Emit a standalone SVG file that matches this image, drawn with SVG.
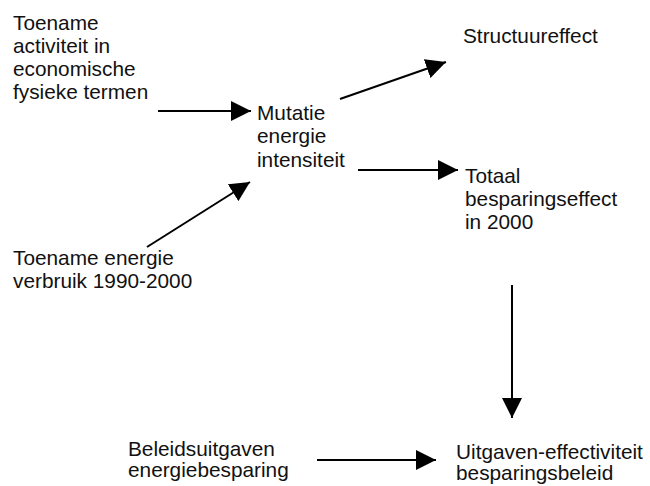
<svg xmlns="http://www.w3.org/2000/svg" width="650" height="486" viewBox="0 0 650 486">
<defs>
<marker id="ah" viewBox="0 0 20 20" refX="20" refY="10" markerWidth="20" markerHeight="20" markerUnits="userSpaceOnUse" orient="auto">
<path d="M0,0 L20,10 L0,20 Z" fill="#000"/>
</marker>
<style>
text{font-family:"Liberation Sans",Arial,Helvetica,sans-serif;font-size:20.8px;fill:#111}
.c{stroke:#000;stroke-width:2;fill:none;marker-end:url(#ah)}
</style>
</defs>
<rect width="650" height="486" fill="#fff"/>
<g id="connectors">
<line class="c" x1="158" y1="111" x2="251" y2="111"/>
<line class="c" x1="340" y1="99" x2="446" y2="62"/>
<line class="c" x1="358" y1="170" x2="458" y2="170"/>
<line class="c" x1="147" y1="247" x2="250" y2="182"/>
<line class="c" x1="512" y1="285" x2="512" y2="418"/>
<line class="c" x1="317" y1="460" x2="436" y2="460"/>
</g>
<g id="toename-activiteit">
<text x="13" y="30">Toename</text>
<text x="13" y="53">activiteit in</text>
<text x="13" y="76">economische</text>
<text x="13" y="99">fysieke termen</text>
</g>
<g id="mutatie">
<text x="257" y="120">Mutatie</text>
<text x="257" y="143">energie</text>
<text x="257" y="167">intensiteit</text>
</g>
<g id="structuureffect">
<text x="463" y="43">Structuureffect</text>
</g>
<g id="totaal">
<text x="465" y="183">Totaal</text>
<text x="465" y="206">besparingseffect</text>
<text x="465" y="229">in 2000</text>
</g>
<g id="toename-energie">
<text x="13" y="265">Toename energie</text>
<text x="13" y="288">verbruik 1990-2000</text>
</g>
<g id="beleidsuitgaven">
<text x="128" y="456">Beleidsuitgaven</text>
<text x="128" y="477">energiebesparing</text>
</g>
<g id="uitgaven">
<text x="456" y="459">Uitgaven-effectiviteit</text>
<text x="456" y="480">besparingsbeleid</text>
</g>
</svg>
